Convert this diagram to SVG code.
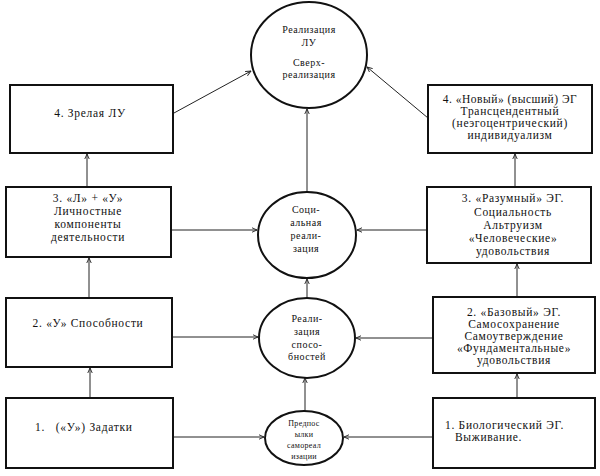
<svg xmlns="http://www.w3.org/2000/svg" width="600" height="476" viewBox="0 0 600 476">
<style>
.box{fill:#fff;stroke:#111;stroke-width:2}
.circ{fill:#fff;stroke:#111;stroke-width:2}
text{font-family:'Liberation Serif','Times New Roman','DejaVu Serif',serif;fill:#111}
.t{font-size:11.5px;letter-spacing:0.7px}
.c{text-anchor:middle}
.s{font-size:10px;letter-spacing:0.5px;text-anchor:middle}
.xs{font-size:8px;letter-spacing:0.3px;text-anchor:middle}
.ln{stroke:#222;stroke-width:1;fill:none;marker-end:url(#ah)}
</style>
<defs>
<marker id="ah" viewBox="0 0 10 10" refX="9" refY="5" markerWidth="6" markerHeight="6" orient="auto" markerUnits="userSpaceOnUse">
<path d="M0,1 L9,5 L0,9" fill="none" stroke="#222" stroke-width="1.5"/>
</marker>
</defs>
<rect width="600" height="476" fill="#fff"/>
<g id="connectors">
<line class="ln" x1="174" y1="113" x2="251" y2="71"/>
<line class="ln" x1="428" y1="118" x2="367" y2="67"/>
<line class="ln" x1="307" y1="193" x2="307" y2="109"/>
<line class="ln" x1="87" y1="187" x2="87" y2="154"/>
<line class="ln" x1="515" y1="187" x2="515" y2="154"/>
<line class="ln" x1="171" y1="230" x2="257" y2="230"/>
<line class="ln" x1="427" y1="230" x2="357" y2="230"/>
<line class="ln" x1="307" y1="298" x2="307" y2="279"/>
<line class="ln" x1="89" y1="298" x2="89" y2="258"/>
<line class="ln" x1="517" y1="297" x2="517" y2="264"/>
<line class="ln" x1="172" y1="337" x2="258" y2="337"/>
<line class="ln" x1="433" y1="338" x2="356" y2="338"/>
<line class="ln" x1="305" y1="412" x2="305" y2="378"/>
<line class="ln" x1="90" y1="398" x2="90" y2="368"/>
<line class="ln" x1="517" y1="398" x2="517" y2="374"/>
<line class="ln" x1="173" y1="437" x2="264" y2="437"/>
<line class="ln" x1="433" y1="437" x2="344" y2="437"/>
</g>
<g id="top-circle">
<ellipse class="circ" cx="309" cy="55" rx="58" ry="53"/>
<text class="s" x="309" y="33">Реализация</text>
<text class="s" x="309" y="46">ЛУ</text>
<text class="s" x="309" y="66">Сверх-</text>
<text class="s" x="309" y="78">реализация</text>
</g>
<g id="left4">
<rect class="box" x="10" y="85" width="163" height="68"/>
<text class="t c" x="90" y="117">4. Зрелая ЛУ</text>
</g>
<g id="right4">
<rect class="box" x="428" y="85" width="164" height="68"/>
<text class="t c" x="510" y="103" style="letter-spacing:0.5px">4. «Новый» (высший) ЭГ</text>
<text class="t c" x="510" y="115">Трансцендентный</text>
<text class="t c" x="510" y="127">(неэгоцентрический)</text>
<text class="t c" x="510" y="139">индивидуализм</text>
</g>
<g id="left3">
<rect class="box" x="6" y="187" width="165" height="70"/>
<text class="t c" x="88" y="202">3. «Л» + «У»</text>
<text class="t c" x="88" y="215">Личностные</text>
<text class="t c" x="88" y="228">компоненты</text>
<text class="t c" x="88" y="241">деятельности</text>
</g>
<g id="mid-circle">
<ellipse class="circ" cx="307" cy="235" rx="49" ry="43"/>
<text class="s" x="306" y="213">Соци-</text>
<text class="s" x="306" y="226">альная</text>
<text class="s" x="306" y="239">реали-</text>
<text class="s" x="306" y="252">зация</text>
</g>
<g id="right3">
<rect class="box" x="427" y="187" width="164" height="76"/>
<text class="t c" x="513" y="202">3. «Разумный» ЭГ.</text>
<text class="t c" x="513" y="216">Социальность</text>
<text class="t c" x="513" y="229">Альтруизм</text>
<text class="t c" x="513" y="242">«Человеческие»</text>
<text class="t c" x="513" y="255">удовольствия</text>
</g>
<g id="left2">
<rect class="box" x="6" y="298" width="166" height="69"/>
<text class="t c" x="88" y="327">2. «У» Способности</text>
</g>
<g id="abil-circle">
<ellipse class="circ" cx="307" cy="338" rx="48" ry="40"/>
<text class="s" x="307" y="322">Реали-</text>
<text class="s" x="307" y="335">зация</text>
<text class="s" x="307" y="348">спосо-</text>
<text class="s" x="307" y="360">бностей</text>
</g>
<g id="right2">
<rect class="box" x="433" y="297" width="162" height="76"/>
<text class="t c" x="514" y="316">2. «Базовый» ЭГ.</text>
<text class="t c" x="514" y="328">Самосохранение</text>
<text class="t c" x="514" y="340">Самоутверждение</text>
<text class="t c" x="514" y="352">«Фундаментальные»</text>
<text class="t c" x="514" y="364">удовольствия</text>
</g>
<g id="left1">
<rect class="box" x="6" y="398" width="167" height="70"/>
<text class="t" x="35" y="431" xml:space="preserve">1.   («У») Задатки</text>
</g>
<g id="pre-circle">
<ellipse class="circ" cx="304" cy="438" rx="39" ry="27"/>
<text class="xs" x="304" y="426">Предпос</text>
<text class="xs" x="304" y="437">ылки</text>
<text class="xs" x="304" y="448">самореал</text>
<text class="xs" x="304" y="459">изации</text>
</g>
<g id="right1">
<rect class="box" x="433" y="398" width="162" height="70"/>
<text class="t" x="445" y="429">1. Биологический ЭГ.</text>
<text class="t" x="455" y="441">Выживание.</text>
</g>
</svg>
